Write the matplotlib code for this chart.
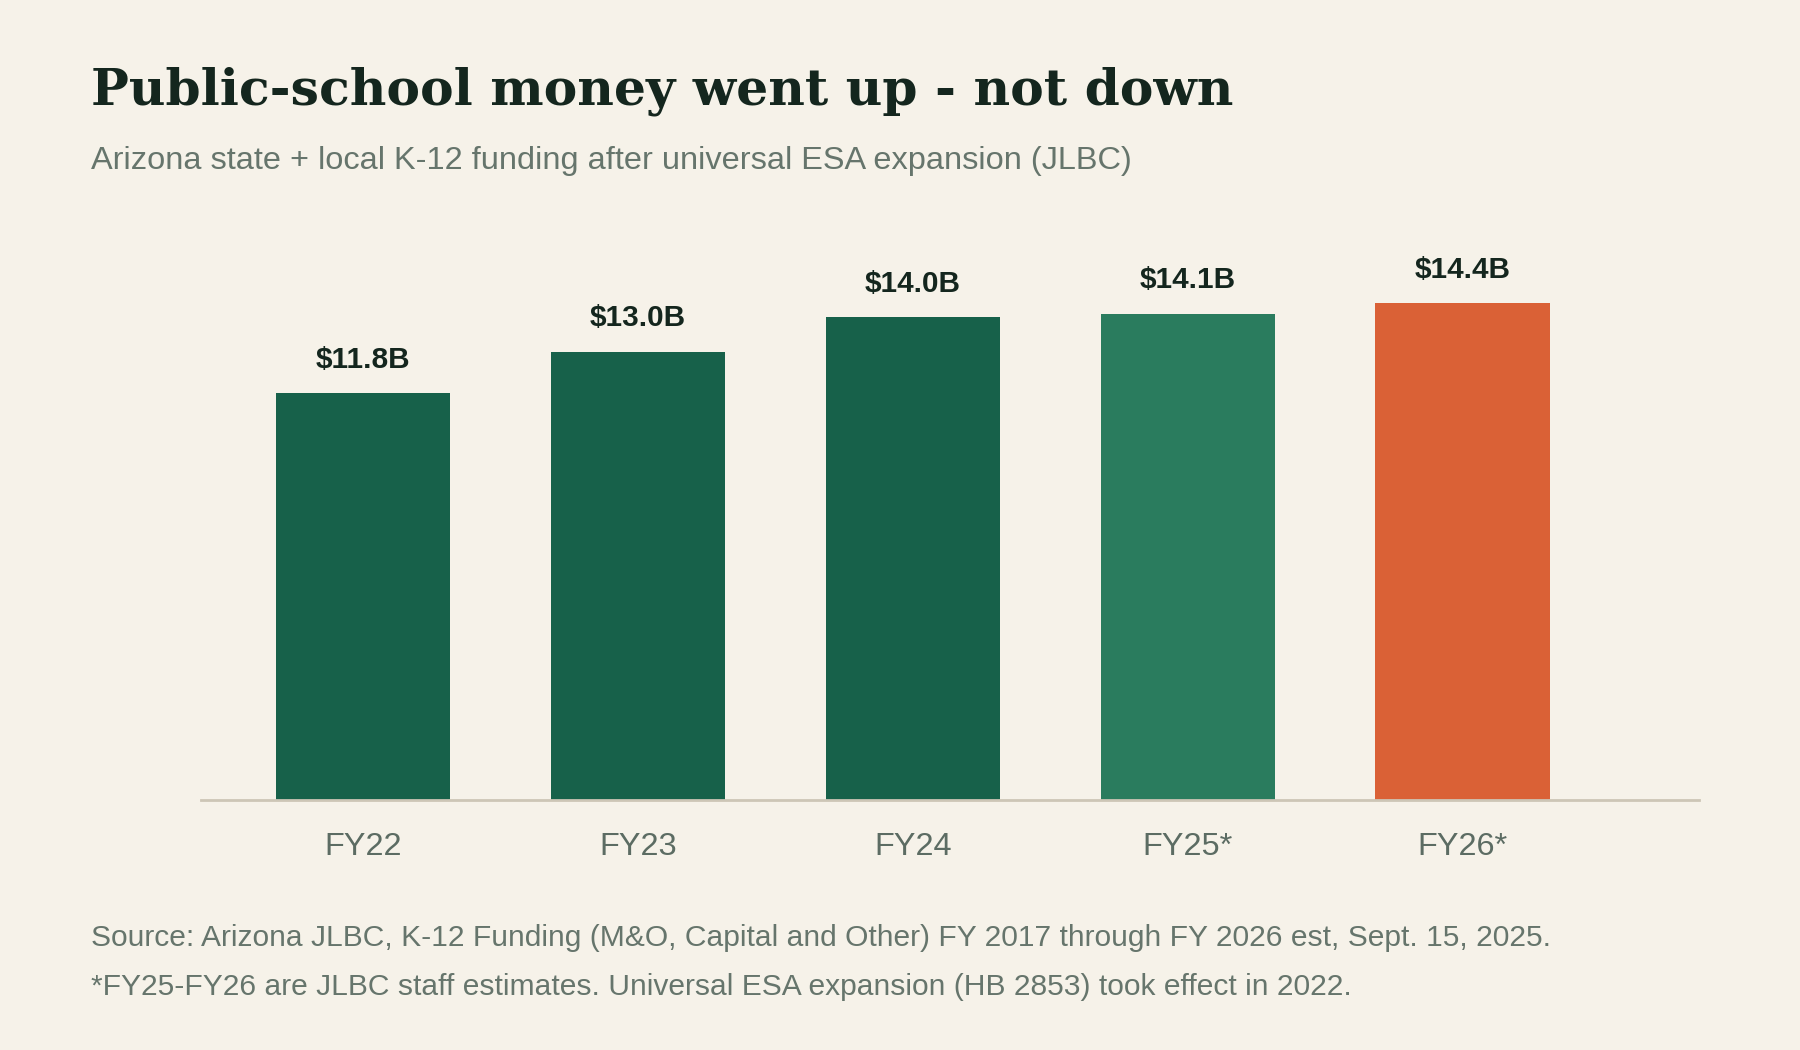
import numpy as np
import matplotlib
matplotlib.use("Agg")
import matplotlib.pyplot as plt

# data (billions of dollars)
years = ["FY22", "FY23", "FY24", "FY25*", "FY26*"]
funding = [11.8, 13.0, 14.0, 14.1, 14.4]
value_labels = ["$11.8B", "$13.0B", "$14.0B", "$14.1B", "$14.4B"]
bar_colors = ["#17614a", "#17614a", "#17614a", "#2a7c5e", "#da6136"]

bg = "#f6f2e9"
ink = "#14261e"
muted = "#5c6c63"

plt.rcParams['font.family'] = ['Liberation Sans', 'DejaVu Sans']

fig = plt.figure(figsize=(18, 10.5), dpi=100, facecolor=bg)
ax = fig.add_axes([0.1117, 0.2381, 0.8322, 0.5257])
ax.set_facecolor(bg)

x = np.arange(len(years))
bars = ax.bar(x, funding, width=0.635, color=bar_colors, zorder=2)

for xi, v, lab in zip(x, funding, value_labels):
    ax.annotate(lab, (xi, v), xytext=(0, 24), textcoords="offset points",
                ha="center", va="center", fontsize=21.4, fontweight="bold", color=ink)

ax.set_xlim(-0.59, 4.86)
ax.set_ylim(0, 16)
ax.set_xticks(x)
ax.set_xticklabels(years, fontsize=23.4, color=muted)
ax.tick_params(axis="x", length=0, pad=23)
ax.set_yticks([])
for side in ["top", "right", "left"]:
    ax.spines[side].set_visible(False)
ax.spines["bottom"].set_color("#cdc6b6")
ax.spines["bottom"].set_linewidth(2)

fig.text(0.0504, 0.913, "Public-school money went up - not down", family="DejaVu Serif",
         fontsize=36.3, fontweight="bold", color=ink, ha="left", va="center")
fig.text(0.0504, 0.847, "Arizona state + local K-12 funding after universal ESA expansion (JLBC)",
         fontsize=23.4, color="#66756c", ha="left", va="center")
fig.text(0.0504, 0.107, "Source: Arizona JLBC, K-12 Funding (M&O, Capital and Other) FY 2017 through FY 2026 est, Sept. 15, 2025.",
         fontsize=21.6, color="#66756c", ha="left", va="center")
fig.text(0.0504, 0.060, "*FY25-FY26 are JLBC staff estimates. Universal ESA expansion (HB 2853) took effect in 2022.",
         fontsize=21.6, color="#66756c", ha="left", va="center")

fig.savefig("out.png", dpi=100, facecolor=bg)
